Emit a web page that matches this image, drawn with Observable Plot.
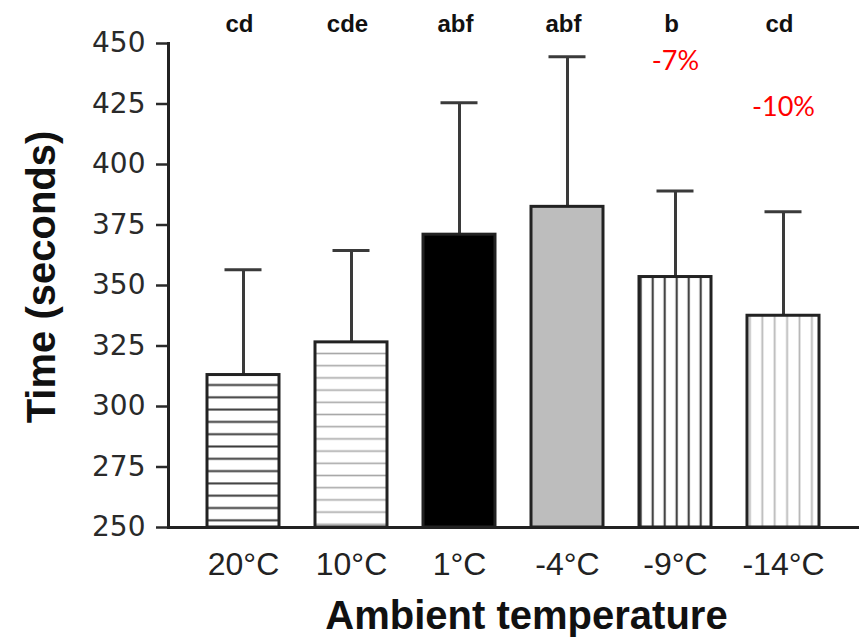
<!DOCTYPE html>
<html><head><meta charset="utf-8">
<script src="https://cdn.jsdelivr.net/npm/d3@7"></script>
<script src="https://cdn.jsdelivr.net/npm/@observablehq/plot@0.6"></script>
<style>body{margin:0;background:#fff}</style>
</head><body><div id="chart"></div>
<script>
// ---- data ----
const temps = ["20°C", "10°C", "1°C", "-4°C", "-9°C", "-14°C"];
const means = [313, 326.5, 371, 382.5, 353.5, 337.5];
const upper = [356.5, 364.5, 425.5, 444.5, 389, 380.5];
const groups = ["cd", "cde", "abf", "abf", "b", "cd"];
const changeTemps = ["-9°C", "-14°C"];
const changeLabels = ["-7%", "-10%"];
const changeY = [439, 420];
const yTicks = [250, 275, 300, 325, 350, 375, 400, 425, 450];
const xTitle = "Ambient temperature";
const yTitle = "Time (seconds)";

// ---- styles (fills per category) ----
const fills = ["url(#hDark)", "url(#hLight)", "#000000", "#bdbdbd", "url(#vDark)", "url(#vLight)"];

const data = temps.map((t, i) => ({temp: t, mean: means[i], upper: upper[i], group: groups[i]}));
const changes = changeTemps.map((t, i) => ({temp: t, label: changeLabels[i], y: changeY[i]}));

const ink = "#222";
const chart = Plot.plot({
  width: 859, height: 638,
  marginTop: 43, marginBottom: 111, marginLeft: 168, marginRight: 0,
  style: {background: "white", color: ink, overflow: "visible"},
  x: {domain: temps, paddingInner: 0.33, paddingOuter: 0.335, axis: null},
  y: {domain: [250, 450], axis: null},
  color: {type: "ordinal", domain: temps, range: fills},
  marks: [
    Plot.axisY({ticks: yTicks, tickSize: 12, tickPadding: 11, fontSize: 28, fontFamily: "DejaVu Sans",
      strokeWidth: 2.5, color: "#2a2a2a", label: null}),
    Plot.axisX({tickSize: 0, tickPadding: 25, fontSize: 32, fontFamily: "Liberation Sans", color: ink, label: null}),
    Plot.frame({anchor: "left", stroke: ink, strokeWidth: 3}),
    Plot.ruleX(data, {x: "temp", y1: "mean", y2: "upper", stroke: "#3a3a3a", strokeWidth: 3}),
    Plot.tickY(data, {x: "temp", y: "upper", stroke: "#3a3a3a", strokeWidth: 3, insetLeft: 17.5, insetRight: 17.5}),
    Plot.barY(data, {x: "temp", y1: 250, y2: "mean", fill: "temp", stroke: ink, strokeWidth: 3}),
    Plot.ruleY([250], {stroke: ink, strokeWidth: 3}),
    Plot.text(data, {x: "temp", text: "group", frameAnchor: "top", lineAnchor: "bottom", dy: -11.5, dx: -4,
      fontSize: 24, fontWeight: "bold", fontFamily: "Liberation Sans", fill: "#111"}),
    Plot.text(changes, {x: "temp", y: "y", text: "label", lineAnchor: "bottom", fill: "#ff0000",
      fontSize: 27, fontFamily: "Lato"}),
    Plot.text([yTitle], {frameAnchor: "left", rotate: -90, textAnchor: "middle", lineAnchor: "middle",
      dx: -126, dy: -8.5, fontSize: 40, fontWeight: "bold", fontFamily: "Liberation Sans", fill: "#111"}),
    Plot.text([xTitle], {frameAnchor: "bottom", textAnchor: "middle", lineAnchor: "bottom",
      dx: 12.5, dy: 101.3, fontSize: 40, fontWeight: "bold", fontFamily: "Liberation Sans", fill: "#111"})
  ]
});

// ---- hatch patterns ----
const defs = d3.select(chart).insert("defs", ":first-child");
function stripes(id, horizontal, spacing, offset, color, width) {
  const w = horizontal ? 10 : spacing, h = horizontal ? spacing : 10;
  const p = defs.append("pattern").attr("id", id).attr("patternUnits", "userSpaceOnUse")
    .attr("width", w).attr("height", h).attr(horizontal ? "y" : "x", offset);
  p.append("rect").attr("width", w).attr("height", h).attr("fill", "#fff");
  if (horizontal) p.append("line").attr("x1", 0).attr("x2", w).attr("y1", h / 2).attr("y2", h / 2)
    .attr("stroke", color).attr("stroke-width", width);
  else p.append("line").attr("y1", 0).attr("y2", h).attr("x1", w / 2).attr("x2", w / 2)
    .attr("stroke", color).attr("stroke-width", width);
}
stripes("hDark", true, 12.3, 378.85, "#3c3c3c", 2);
stripes("hLight", true, 12.2, 359.6, "#a8a8a8", 1.6);
stripes("vDark", false, 12, 646.7, "#444", 2.2);
stripes("vLight", false, 12.4, 756.1, "#b8b8b8", 1.8);

document.getElementById("chart").appendChild(chart);
</script>
</body></html>
